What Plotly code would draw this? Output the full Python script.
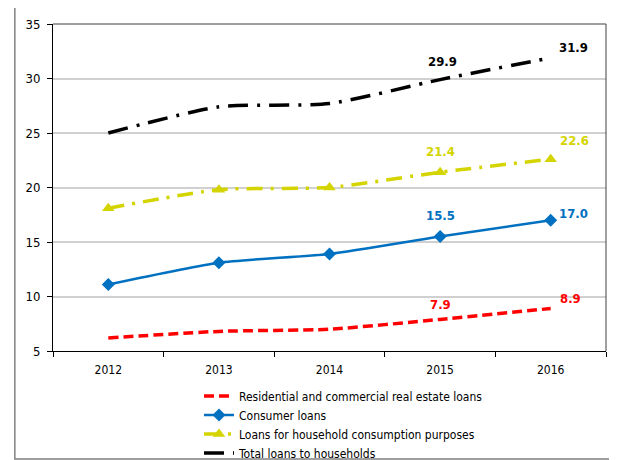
import plotly.graph_objects as go

years = ["2012", "2013", "2014", "2015", "2016"]
real_estate = [6.2, 6.8, 7.0, 7.9, 8.9]
consumer = [11.1, 13.1, 13.9, 15.5, 17.0]
household_consumption = [18.1, 19.8, 20.0, 21.4, 22.6]
total = [25.0, 27.4, 27.7, 29.9, 31.9]

RED = "#ff0000"
BLUE = "#0070c0"
YELLOW = "#d4d400"
BLACK = "#000000"

FONT = "DejaVu Sans Condensed, Liberation Sans, sans-serif"

fig = go.Figure()
fig.add_trace(go.Scatter(
    x=years, y=real_estate, mode="lines",
    name="Residential and commercial real estate loans",
    line=dict(color=RED, width=3.5, dash="10px,5px", shape="spline", smoothing=0.6),
))
fig.add_trace(go.Scatter(
    x=years, y=consumer, mode="lines+markers",
    name="Consumer loans",
    line=dict(color=BLUE, width=2.5, shape="spline", smoothing=0.6),
    marker=dict(symbol="diamond", size=10, color=BLUE),
))
fig.add_trace(go.Scatter(
    x=years, y=household_consumption, mode="lines+markers",
    name="Loans for household consumption purposes",
    line=dict(color=YELLOW, width=3.5, dash="16px,8px,3px,8px", shape="spline", smoothing=0.6),
    marker=dict(symbol="triangle-up", size=11, color=YELLOW),
))
fig.add_trace(go.Scatter(
    x=years, y=total, mode="lines",
    name="Total loans to households",
    line=dict(color=BLACK, width=3.5, dash="20px,9px,3px,9px", shape="spline", smoothing=0.6),
))

# bold value labels for 2015 and 2016 (x given as category index)
label_specs = [
    (real_estate, RED, (0, 15), (20, 10)),
    (consumer, BLUE, (0, 21), (23, 7)),
    (household_consumption, YELLOW, (0, 21), (24, 19)),
    (total, BLACK, (2, 18), (23, 10)),
]
for series, color, s15, s16 in label_specs:
    fig.add_annotation(x=3, y=series[3], text="<b>%.1f</b>" % series[3],
                       showarrow=False, xshift=s15[0], yshift=s15[1],
                       font=dict(family="DejaVu Sans Condensed", size=13, color=color))
    fig.add_annotation(x=4, y=series[4], text="<b>%.1f</b>" % series[4],
                       showarrow=False, xshift=s16[0], yshift=s16[1],
                       font=dict(family="DejaVu Sans Condensed", size=13, color=color))

# outer chart border
fig.add_shape(type="rect", xref="paper", yref="paper",
              x0=-0.069, x1=1.03, y0=-0.33, y1=1.058,
              line=dict(color="#808080", width=1.5), layer="below")

# page body adds an 8px offset, so the figure is sized 609x452
fig.update_layout(
    width=609, height=452,
    margin=dict(l=45, r=11, t=16, b=109, autoexpand=False),
    paper_bgcolor="white", plot_bgcolor="white",
    font=dict(family=FONT, size=12, color="#000000"),
    showlegend=True,
    legend=dict(x=0.264, y=-0.093, xanchor="left", yanchor="top",
                font=dict(family=FONT, size=12), tracegroupgap=0,
                itemwidth=30, bgcolor="rgba(0,0,0,0)"),
    xaxis=dict(type="category", tickson="boundaries", ticks="outside",
               ticklen=5, tickcolor="black", showline=True, linecolor="black",
               linewidth=1, showgrid=False, automargin=False,
               ticklabelstandoff=8,
               tickfont=dict(family=FONT, size=12), range=[-0.5, 4.5]),
    yaxis=dict(range=[5, 35], dtick=5, ticks="outside", ticklen=5,
               tickcolor="black", showline=True, linecolor="black",
               linewidth=1, showgrid=True, gridcolor="#d0d0d0", gridwidth=1.5,
               zeroline=False, automargin=False, ticklabelstandoff=4,
               tickfont=dict(family=FONT, size=13)),
)
# plot-area top and right border
fig.add_shape(type="line", xref="paper", yref="paper", x0=0, x1=1, y0=1, y1=1,
              line=dict(color="#404040", width=1))
fig.add_shape(type="line", xref="paper", yref="paper", x0=1, x1=1, y0=0, y1=1,
              line=dict(color="#404040", width=1))

fig.write_html("out.html")
